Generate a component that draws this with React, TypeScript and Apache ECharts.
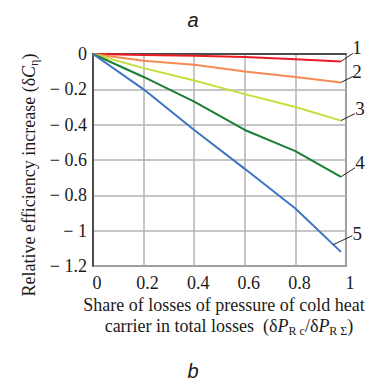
import React, { useEffect, useRef } from "react";
import * as echarts from "echarts";

const xValues = [0, 0.2, 0.4, 0.6, 0.8, 0.98];
const curve1 = [0, -0.005, -0.01, -0.017, -0.03, -0.042];
const curve2 = [0, -0.038, -0.061, -0.099, -0.13, -0.161];
const curve3 = [0, -0.08, -0.15, -0.227, -0.3, -0.377];
const curve4 = [0, -0.13, -0.27, -0.43, -0.55, -0.695];
const curve5 = [0, -0.2, -0.43, -0.65, -0.875, -1.12];
const curveNames = ["1", "2", "3", "4", "5"];
const curveColors = ["#ec1c24", "#f58a52", "#c9dd3a", "#1b7f36", "#3d74c4"];
const curves = [curve1, curve2, curve3, curve4, curve5];

// label offsets relative to the anchor point on each curve: [anchor x shift, lineDx, lineDy, textDx, textDy]
const labelOffsets = [
  [0, 12, -8, 16, -14],
  [0, 12, -6, 16, -11],
  [0, 14, -7, 19, -12],
  [0, 14, -9, 19, -14],
  [-0.03, 19, -9, 24, -11],
];

const SERIF = "Liberation Serif";
const SANS = "Liberation Sans";

export default function App() {
  const ref = useRef<HTMLDivElement>(null);
  useEffect(() => {
    if (!ref.current) return;
    const chart = echarts.init(ref.current, null, { renderer: "svg" });
    chart.setOption({
      animation: false,
      backgroundColor: "#ffffff",
      grid: {
        left: 93,
        top: 54,
        right: 32,
        bottom: 120,
        show: true,
        borderColor: "#333333",
        borderWidth: 1.5,
      },
      xAxis: {
        type: "value",
        min: 0,
        max: 1,
        interval: 0.2,
        axisLine: { show: true, lineStyle: { color: "#333333", width: 1.5 } },
        axisTick: { show: false },
        splitLine: { show: true, lineStyle: { color: "#b3b3b3", width: 1.5 } },
        axisLabel: {
          color: "#1a1a1a",
          fontFamily: SERIF,
          fontSize: 18,
          margin: 8,
          padding: [0, 0, 0, 8],
          formatter: (v: number) => String(+v.toFixed(1)),
        },
      },
      yAxis: {
        type: "value",
        min: -1.2,
        max: 0,
        interval: 0.2,
        axisLine: { show: true, lineStyle: { color: "#333333", width: 1.5 } },
        axisTick: { show: false },
        splitLine: { show: true, lineStyle: { color: "#b3b3b3", width: 1.5 } },
        axisLabel: {
          color: "#1a1a1a",
          fontFamily: SERIF,
          fontSize: 18,
          margin: 6,
          formatter: (v: number) =>
            Math.abs(v) < 1e-9 ? "0" : "\u2212 " + String(+Math.abs(v).toFixed(1)),
        },
      },
      series: curves.map((c, i) => ({
        type: "line",
        name: curveNames[i],
        data: c.map((y, j) => [xValues[j], y]),
        showSymbol: false,
        symbol: "none",
        lineStyle: { color: curveColors[i], width: 2 },
        z: 3,
      })),
    });

    const graphics: any[] = [];
    curves.forEach((c, i) => {
      const n = c.length - 1;
      const [frac, ldx, ldy, tdx, tdy] = labelOffsets[i];
      const ax = xValues[n] + frac;
      const ay = c[n - 1] + ((c[n] - c[n - 1]) * (ax - xValues[n - 1])) / (xValues[n] - xValues[n - 1]);
      const p = chart.convertToPixel({ gridIndex: 0 }, [ax, ay]) as number[];
      graphics.push({
        type: "line",
        shape: { x1: p[0], y1: p[1], x2: p[0] + ldx, y2: p[1] + ldy },
        style: { stroke: "#222", lineWidth: 1 },
        z: 10,
      });
      graphics.push({
        type: "text",
        x: p[0] + tdx,
        y: p[1] + tdy,
        style: {
          text: curveNames[i],
          fontFamily: SERIF,
          fontSize: 19,
          fill: "#1a1a1a",
          align: "center",
          verticalAlign: "middle",
        },
        z: 10,
      });
    });

    const plain = (text: string, x: number, y: number, size: number, family: string, italic = false) => ({
      type: "text",
      x,
      y,
      style: {
        text,
        fontFamily: family,
        fontSize: size,
        fontStyle: italic ? "italic" : "normal",
        fill: "#1a1a1a",
        align: "center",
        verticalAlign: "middle",
      },
    });

    graphics.push(plain("a", 193, 20, 20, SANS, true));
    graphics.push(plain("b", 193, 371, 20, SANS, true));
    graphics.push(plain("Share of losses of pressure of cold heat", 224, 305, 18, SERIF));

    const rich = {
      n: { fontFamily: SERIF, fontSize: 18, fill: "#1a1a1a", lineHeight: 21 },
      i: { fontFamily: SERIF, fontSize: 18, fontStyle: "italic", fill: "#1a1a1a", lineHeight: 21 },
      s: { fontFamily: SERIF, fontSize: 12, fill: "#1a1a1a", lineHeight: 12, verticalAlign: "bottom" },
    };
    graphics.push({
      type: "text",
      x: 229,
      y: 326,
      style: {
        text: "{n|carrier in total losses  (δ}{i|P}{s|R c}{n|/δ}{i|P}{s|R Σ}{n|)}",
        align: "center",
        verticalAlign: "middle",
        rich,
      },
    });
    graphics.push({
      type: "text",
      x: 29,
      y: 175,
      rotation: Math.PI / 2,
      style: {
        text: "{n|Relative efficiency increase (δ}{i|C}{s|η}{n|)}",
        align: "center",
        verticalAlign: "middle",
        rich,
      },
    });

    chart.setOption({ graphic: graphics });
    return () => chart.dispose();
  }, []);

  return (
    <div
      ref={ref}
      style={{ position: "fixed", left: 0, top: 0, width: 378, height: 386, background: "#fff" }}
    />
  );
}
